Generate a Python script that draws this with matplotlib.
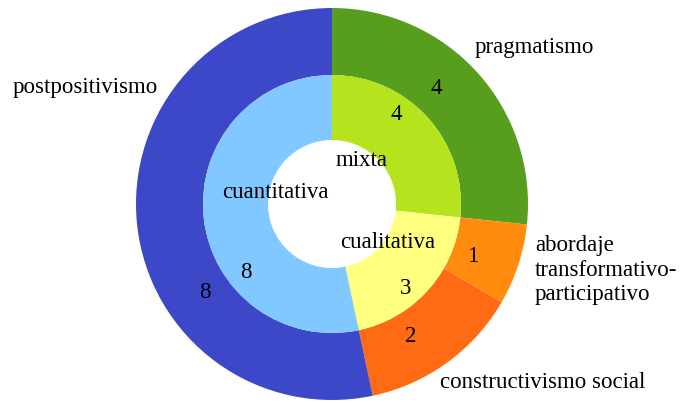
import matplotlib.pyplot as plt

# data
outer_labels = ['pragmatismo', 'abordaje\ntransformativo-\nparticipativo', 'constructivismo social', 'postpositivismo']
outer_values = [4, 1, 2, 8]
outer_colors = ['#579e1e', '#ff8c0f', '#ff6a14', '#3d48c8']

inner_labels = ['mixta', 'cualitativa', 'cuantitativa']
inner_values = [4, 3, 8]
inner_colors = ['#b5e41f', '#ffff80', '#80c8ff']

W, H = 683, 403
plt.rcParams['font.family'] = ['Liberation Serif', 'DejaVu Serif']

fig = plt.figure(figsize=(W / 100, H / 100), dpi=100)
ax = fig.add_axes([0, 0, 1, 1])

def py(y):
    return H - y

cx, cy = 332, py(204)
R_out, R_mid, R_in = 196, 129, 64

ax.pie(outer_values, colors=outer_colors, radius=R_out, center=(cx, cy),
       startangle=90, counterclock=False, frame=True,
       wedgeprops=dict(width=R_out - R_mid, linewidth=0))
ax.pie(inner_values, colors=inner_colors, radius=R_mid, center=(cx, cy),
       startangle=90, counterclock=False, frame=True,
       wedgeprops=dict(width=R_mid - R_in, linewidth=0))
ax.set_xlim(0, W)
ax.set_ylim(0, H)
ax.set_aspect('equal')
ax.axis('off')

fs = 16.5
# outer category labels
ax.text(475, py(48), outer_labels[0], fontsize=fs, ha='left', va='center')
ax.text(535, py(270), outer_labels[1], fontsize=fs, ha='left', va='center', linespacing=1.22)
ax.text(440, py(383), outer_labels[2], fontsize=fs, ha='left', va='center')
ax.text(13, py(88), outer_labels[3], fontsize=fs, ha='left', va='center')

# inner category labels
ax.text(362, py(160), inner_labels[0], fontsize=fs, ha='center', va='center')
ax.text(388, py(243), inner_labels[1], fontsize=fs, ha='center', va='center')
ax.text(275, py(192), inner_labels[2], fontsize=fs, ha='center', va='center')

# value labels
outer_pos = [(436, 88), (473, 256), (411, 337), (205, 292)]
inner_pos = [(396, 115), (406, 288), (246, 272)]
for v, (x, y) in zip(outer_values, outer_pos):
    ax.text(x, py(y), str(v), fontsize=fs, ha='center', va='center')
for v, (x, y) in zip(inner_values, inner_pos):
    ax.text(x, py(y), str(v), fontsize=fs, ha='center', va='center')

fig.savefig('out.png', dpi=100)
